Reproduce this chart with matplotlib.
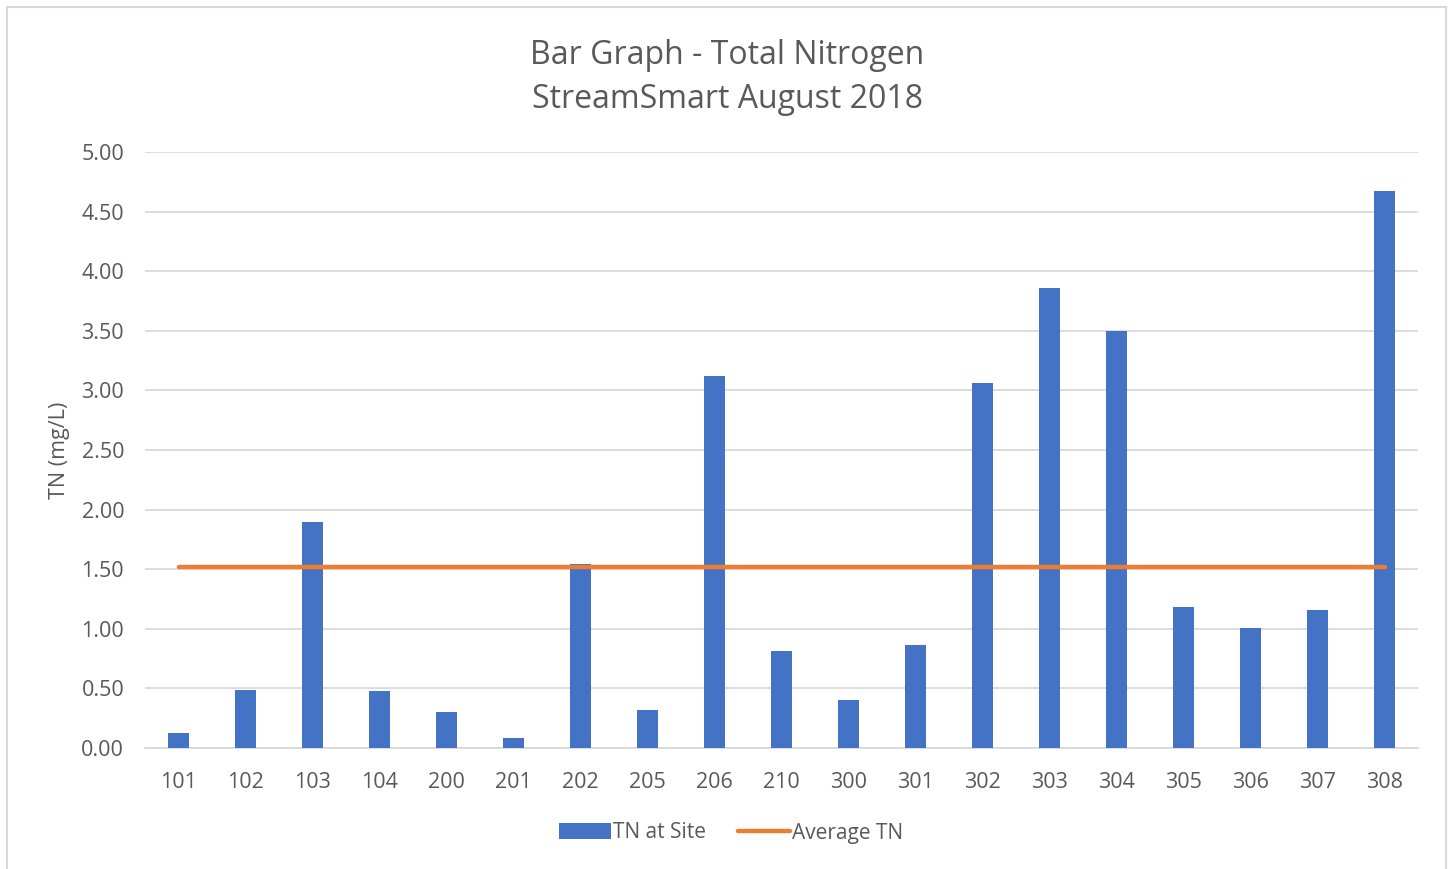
import numpy as np
import matplotlib.pyplot as plt
from matplotlib.patches import Rectangle

# site ids and total nitrogen per site (mg/L)
sites = ['101', '102', '103', '104', '200', '201', '202', '205', '206', '210',
         '300', '301', '302', '303', '304', '305', '306', '307', '308']
tn_values = [0.13, 0.49, 1.90, 0.48, 0.30, 0.08, 1.54, 0.32, 3.12, 0.81,
             0.40, 0.86, 3.06, 3.86, 3.50, 1.18, 1.01, 1.16, 4.67]
avg_tn = [1.52, 1.52, 1.52, 1.52, 1.52, 1.52, 1.52, 1.52, 1.52, 1.52,
          1.52, 1.52, 1.52, 1.52, 1.52, 1.52, 1.52, 1.52, 1.52]
y_ticks = [0.0, 0.5, 1.0, 1.5, 2.0, 2.5, 3.0, 3.5, 4.0, 4.5, 5.0]

plt.rcParams['font.family'] = ['Open Sans', 'DejaVu Sans']
txt_color = '#595959'
bar_color = '#4472C4'
line_color = '#ED7D31'

W, H = 1450, 869
fig = plt.figure(figsize=(W / 100, H / 100), dpi=100)

# outer chart frame (light grey), bottom runs off the image
fig.patches.append(Rectangle((7 / W, -0.05), (1446 - 7) / W, 1.05 - 7 / H,
                             transform=fig.transFigure, fill=False,
                             edgecolor='#d9d9d9', linewidth=1.5))

# plot area in pixels: x 145..1418, y 152..748
ax = fig.add_axes([145 / W, 1 - 748 / H, (1418 - 145) / W, (748 - 152) / H])

x = np.arange(len(sites))
bars = ax.bar(x, tn_values, width=0.31, color=bar_color, zorder=3)
line, = ax.plot(x, avg_tn, color=line_color, linewidth=3.2,
                solid_capstyle='round', zorder=4)

ax.set_xlim(-0.5, len(sites) - 0.5)
ax.set_ylim(0, 5)
ax.set_yticks(y_ticks)
ax.set_yticklabels([f'{v:.2f}' for v in y_ticks])
ax.set_xticks(x)
ax.set_xticklabels(sites)
ax.yaxis.grid(True, color='#d9d9d9', linewidth=1.3, zorder=0)
ax.tick_params(axis='both', length=0, labelsize=15.5, labelcolor=txt_color)
ax.tick_params(axis='y', pad=15)
ax.tick_params(axis='x', pad=17)
for s in ['top', 'right', 'left']:
    ax.spines[s].set_visible(False)
ax.spines['bottom'].set_color('#d9d9d9')
ax.spines['bottom'].set_linewidth(1.3)

ax.set_ylabel('TN (mg/L)', fontsize=15.5, color=txt_color, labelpad=8)

fig.text(727 / W, 1 - 55 / H, 'Bar Graph - Total Nitrogen', ha='center',
         va='center', fontsize=23, color=txt_color)
fig.text(727 / W, 1 - 100 / H, 'StreamSmart August 2018', ha='center',
         va='center', fontsize=23, color=txt_color)

fig.legend([bars, line], ['TN at Site', 'Average TN'], loc='center',
           bbox_to_anchor=(731 / W, 1 - 833 / H), ncol=2,
           frameon=False, fontsize=15, labelcolor=txt_color,
           handlelength=2.5, handleheight=0.8, handletextpad=0.1,
           columnspacing=1.5)

plt.savefig('out.png', dpi=100)
